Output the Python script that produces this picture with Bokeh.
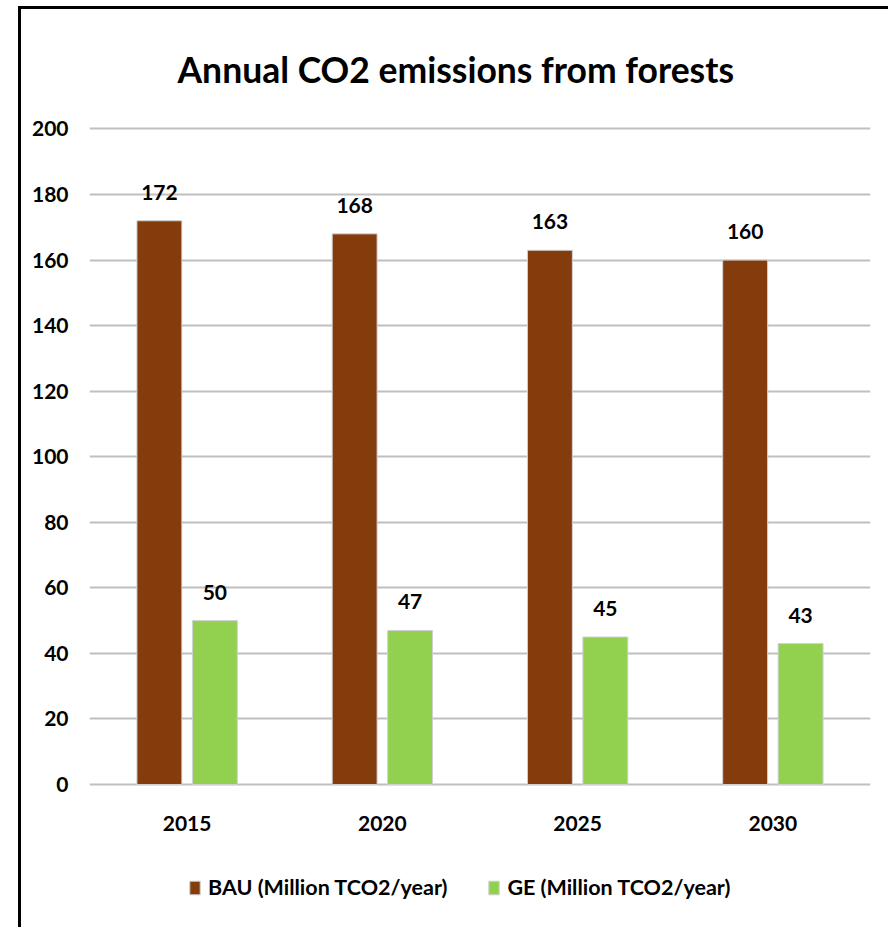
from bokeh.plotting import figure
from bokeh.models import (ColumnDataSource, FactorRange, Range1d, LabelSet,
                          Legend, LegendItem, FixedTicker)
from bokeh.transform import dodge
from bokeh.core.properties import value
from bokeh.embed import file_html
from bokeh.resources import INLINE

# Chart data
years = ["2015", "2020", "2025", "2030"]
bau = [172, 168, 163, 160]
ge = [50, 47, 45, 43]
y_ticks = [0, 20, 40, 60, 80, 100, 120, 140, 160, 180, 200]
series_names = ["BAU (Million TCO2/year)", "GE (Million TCO2/year)"]
title_text = "Annual CO2 emissions from forests"

FONT = "Lato"
BAU_COLOR = "#843C0C"
GE_COLOR = "#92D050"
BAR_EDGE = "#D0D0D0"
OFFSET = 0.142
BAR_W = 0.23

source = ColumnDataSource(dict(
    year=years, bau=bau, ge=ge,
    bau_txt=[str(v) for v in bau], ge_txt=[str(v) for v in ge],
))

# the plotting frame reaches the bottom edge so the category labels and the
# legend can sit inside it, under the zero line
p = figure(x_range=FactorRange(*years), y_range=Range1d(-43.63, 200.76),
           width=867, height=918, frame_width=781, frame_height=801,
           output_backend="svg", toolbar_location=None, x_axis_location=None,
           min_border_left=68, min_border_right=18, min_border_top=117,
           min_border_bottom=0)
p.outline_line_color = None
p.background_fill_color = "white"
p.border_fill_color = "white"
# black frame on the left and top of the chart
p.styles = {"margin-left": "18px", "margin-top": "6px",
            "border-left": "3px solid #000000", "border-top": "3px solid #000000"}

# title
p.title.text = title_text
p.title.text_font = FONT
p.title.text_font_size = "35.5px"
p.title.text_font_style = "bold"
p.title.text_color = "black"
p.title.align = "left"
p.title.vertical_align = "middle"
p.title.offset = 88
p.title.standoff = 70

# grid
p.xgrid.visible = False
p.ygrid.ticker = FixedTicker(ticks=y_ticks)
p.ygrid.grid_line_color = "#BFBFBF"
p.ygrid.grid_line_width = 2

# value axis
yax = p.yaxis[0]
yax.ticker = FixedTicker(ticks=y_ticks)
yax.axis_line_color = None
yax.major_tick_line_color = None
yax.minor_tick_line_color = None
yax.major_label_text_font = FONT
yax.major_label_text_font_style = "bold"
yax.major_label_text_color = "black"
yax.major_label_text_font_size = "21px"
yax.major_label_standoff = 15

# bars
r_bau = p.vbar(x=dodge("year", -OFFSET, range=p.x_range), top="bau", width=BAR_W,
               source=source, fill_color=BAU_COLOR, line_color=BAR_EDGE, line_width=1)
r_ge = p.vbar(x=dodge("year", OFFSET, range=p.x_range), top="ge", width=BAR_W,
              source=source, fill_color=GE_COLOR, line_color=BAR_EDGE, line_width=1)

# value labels above the bars
for col, off in (("bau", -OFFSET), ("ge", OFFSET)):
    p.add_layout(LabelSet(x=dodge("year", off, range=p.x_range), y=col, text=col + "_txt",
                          source=source, y_offset=21, text_align="center",
                          text_baseline="alphabetic", text_font=value(FONT),
                          text_font_size=value("21px"), text_font_style="bold",
                          text_color="black"))

# category labels under the zero line
p.add_layout(LabelSet(x="year", y=0, text="year", source=source, y_offset=-39,
                      text_align="center", text_baseline="middle",
                      text_font=value(FONT), text_font_size=value("21px"),
                      text_font_style="bold", text_color="black"))

# legend at the bottom
legend = Legend(items=[LegendItem(label=series_names[0], renderers=[r_bau]),
                       LegendItem(label=series_names[1], renderers=[r_ge])],
                orientation="horizontal", location=(99, 27),
                glyph_width=13, glyph_height=17, label_standoff=7, spacing=40,
                padding=0, margin=0, border_line_color=None,
                background_fill_alpha=0, label_text_font=FONT,
                label_text_font_size="21.5px", label_text_font_style="bold",
                label_text_color="black")
p.add_layout(legend)

open("out.html", "w").write(file_html(p, INLINE))
